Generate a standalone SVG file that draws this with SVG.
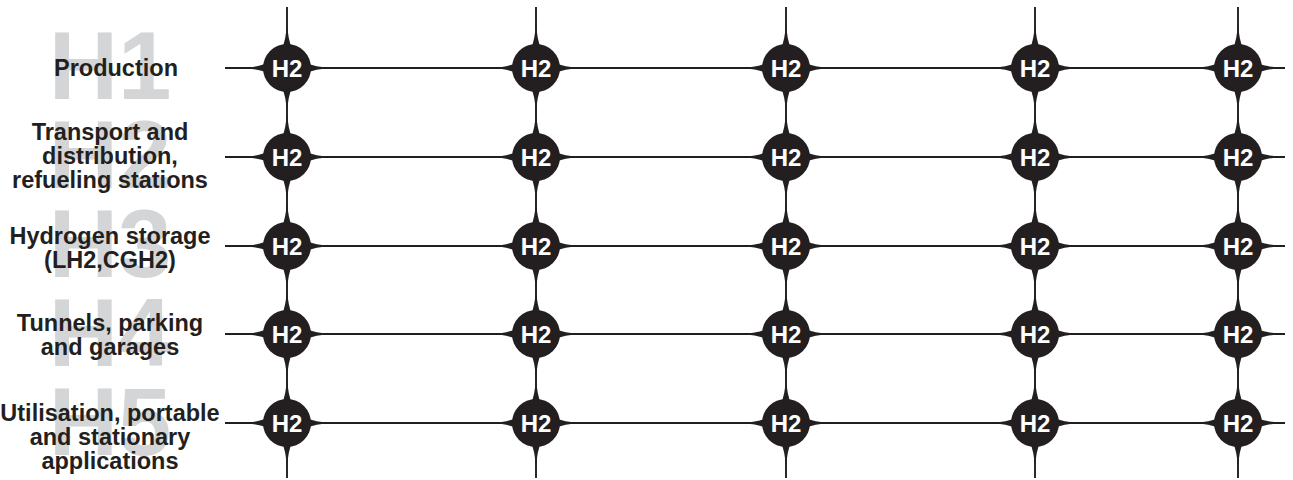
<svg xmlns="http://www.w3.org/2000/svg" xmlns:xlink="http://www.w3.org/1999/xlink" width="1293" height="480" viewBox="0 0 1293 480">
<style>
.bg{font-family:"Liberation Sans",Arial,sans-serif;font-weight:bold;font-size:96px;fill:#d4d5d6;text-anchor:middle}
.lab{font-family:"Liberation Sans",Arial,sans-serif;font-weight:bold;font-size:23.5px;fill:#231f20;text-anchor:middle}
.h2{font-family:"Liberation Sans",Arial,sans-serif;font-weight:bold;font-size:24px;fill:#ffffff;text-anchor:middle}
.ln{stroke:#231f20;stroke-width:1.9;fill:none}
</style>
<defs>
<g id="star" fill="#231f20">
<circle r="24"/>
<path id="spk" d="M20,-5 Q27,-1.2 45,0 Q27,1.2 20,5 Z"/>
<use xlink:href="#spk" transform="rotate(90)"/>
<use xlink:href="#spk" transform="rotate(180)"/>
<use xlink:href="#spk" transform="rotate(270)"/>
</g>
</defs>
<rect width="1293" height="480" fill="#ffffff"/>
<g id="row-labels">
<text class="bg" x="110" y="99">H1</text>
<text class="bg" x="110" y="188">H2</text>
<text class="bg" x="110" y="277">H3</text>
<text class="bg" x="110" y="366">H4</text>
<text class="bg" x="110" y="455">H5</text>
<text class="lab" x="116" y="76">Production</text>
<text class="lab" x="110" y="140">Transport and</text>
<text class="lab" x="110" y="164">distribution,</text>
<text class="lab" x="110" y="188">refueling stations</text>
<text class="lab" x="110" y="244">Hydrogen storage</text>
<text class="lab" x="110" y="268">(LH2,CGH2)</text>
<text class="lab" x="110" y="331">Tunnels, parking</text>
<text class="lab" x="110" y="355">and garages</text>
<text class="lab" x="110" y="421">Utilisation, portable</text>
<text class="lab" x="110" y="445">and stationary</text>
<text class="lab" x="110" y="469">applications</text>
</g>
<g id="connectors" class="ln">
<line x1="225" y1="68" x2="1285" y2="68"/>
<line x1="225" y1="157" x2="1285" y2="157"/>
<line x1="225" y1="246" x2="1285" y2="246"/>
<line x1="225" y1="334" x2="1285" y2="334"/>
<line x1="225" y1="423" x2="1285" y2="423"/>
<line x1="287" y1="7" x2="287" y2="478"/>
<line x1="536" y1="7" x2="536" y2="478"/>
<line x1="786" y1="7" x2="786" y2="478"/>
<line x1="1035" y1="7" x2="1035" y2="478"/>
<line x1="1238" y1="7" x2="1238" y2="478"/>
</g>
<g id="nodes">
<g id="n11"><use xlink:href="#star" x="287" y="68"/><text class="h2" x="287" y="76.5">H2</text></g>
<g id="n12"><use xlink:href="#star" x="536" y="68"/><text class="h2" x="536" y="76.5">H2</text></g>
<g id="n13"><use xlink:href="#star" x="786" y="68"/><text class="h2" x="786" y="76.5">H2</text></g>
<g id="n14"><use xlink:href="#star" x="1035" y="68"/><text class="h2" x="1035" y="76.5">H2</text></g>
<g id="n15"><use xlink:href="#star" x="1238" y="68"/><text class="h2" x="1238" y="76.5">H2</text></g>
<g id="n21"><use xlink:href="#star" x="287" y="157"/><text class="h2" x="287" y="165.5">H2</text></g>
<g id="n22"><use xlink:href="#star" x="536" y="157"/><text class="h2" x="536" y="165.5">H2</text></g>
<g id="n23"><use xlink:href="#star" x="786" y="157"/><text class="h2" x="786" y="165.5">H2</text></g>
<g id="n24"><use xlink:href="#star" x="1035" y="157"/><text class="h2" x="1035" y="165.5">H2</text></g>
<g id="n25"><use xlink:href="#star" x="1238" y="157"/><text class="h2" x="1238" y="165.5">H2</text></g>
<g id="n31"><use xlink:href="#star" x="287" y="246"/><text class="h2" x="287" y="254.5">H2</text></g>
<g id="n32"><use xlink:href="#star" x="536" y="246"/><text class="h2" x="536" y="254.5">H2</text></g>
<g id="n33"><use xlink:href="#star" x="786" y="246"/><text class="h2" x="786" y="254.5">H2</text></g>
<g id="n34"><use xlink:href="#star" x="1035" y="246"/><text class="h2" x="1035" y="254.5">H2</text></g>
<g id="n35"><use xlink:href="#star" x="1238" y="246"/><text class="h2" x="1238" y="254.5">H2</text></g>
<g id="n41"><use xlink:href="#star" x="287" y="334"/><text class="h2" x="287" y="342.5">H2</text></g>
<g id="n42"><use xlink:href="#star" x="536" y="334"/><text class="h2" x="536" y="342.5">H2</text></g>
<g id="n43"><use xlink:href="#star" x="786" y="334"/><text class="h2" x="786" y="342.5">H2</text></g>
<g id="n44"><use xlink:href="#star" x="1035" y="334"/><text class="h2" x="1035" y="342.5">H2</text></g>
<g id="n45"><use xlink:href="#star" x="1238" y="334"/><text class="h2" x="1238" y="342.5">H2</text></g>
<g id="n51"><use xlink:href="#star" x="287" y="423"/><text class="h2" x="287" y="431.5">H2</text></g>
<g id="n52"><use xlink:href="#star" x="536" y="423"/><text class="h2" x="536" y="431.5">H2</text></g>
<g id="n53"><use xlink:href="#star" x="786" y="423"/><text class="h2" x="786" y="431.5">H2</text></g>
<g id="n54"><use xlink:href="#star" x="1035" y="423"/><text class="h2" x="1035" y="431.5">H2</text></g>
<g id="n55"><use xlink:href="#star" x="1238" y="423"/><text class="h2" x="1238" y="431.5">H2</text></g>
</g>
</svg>
